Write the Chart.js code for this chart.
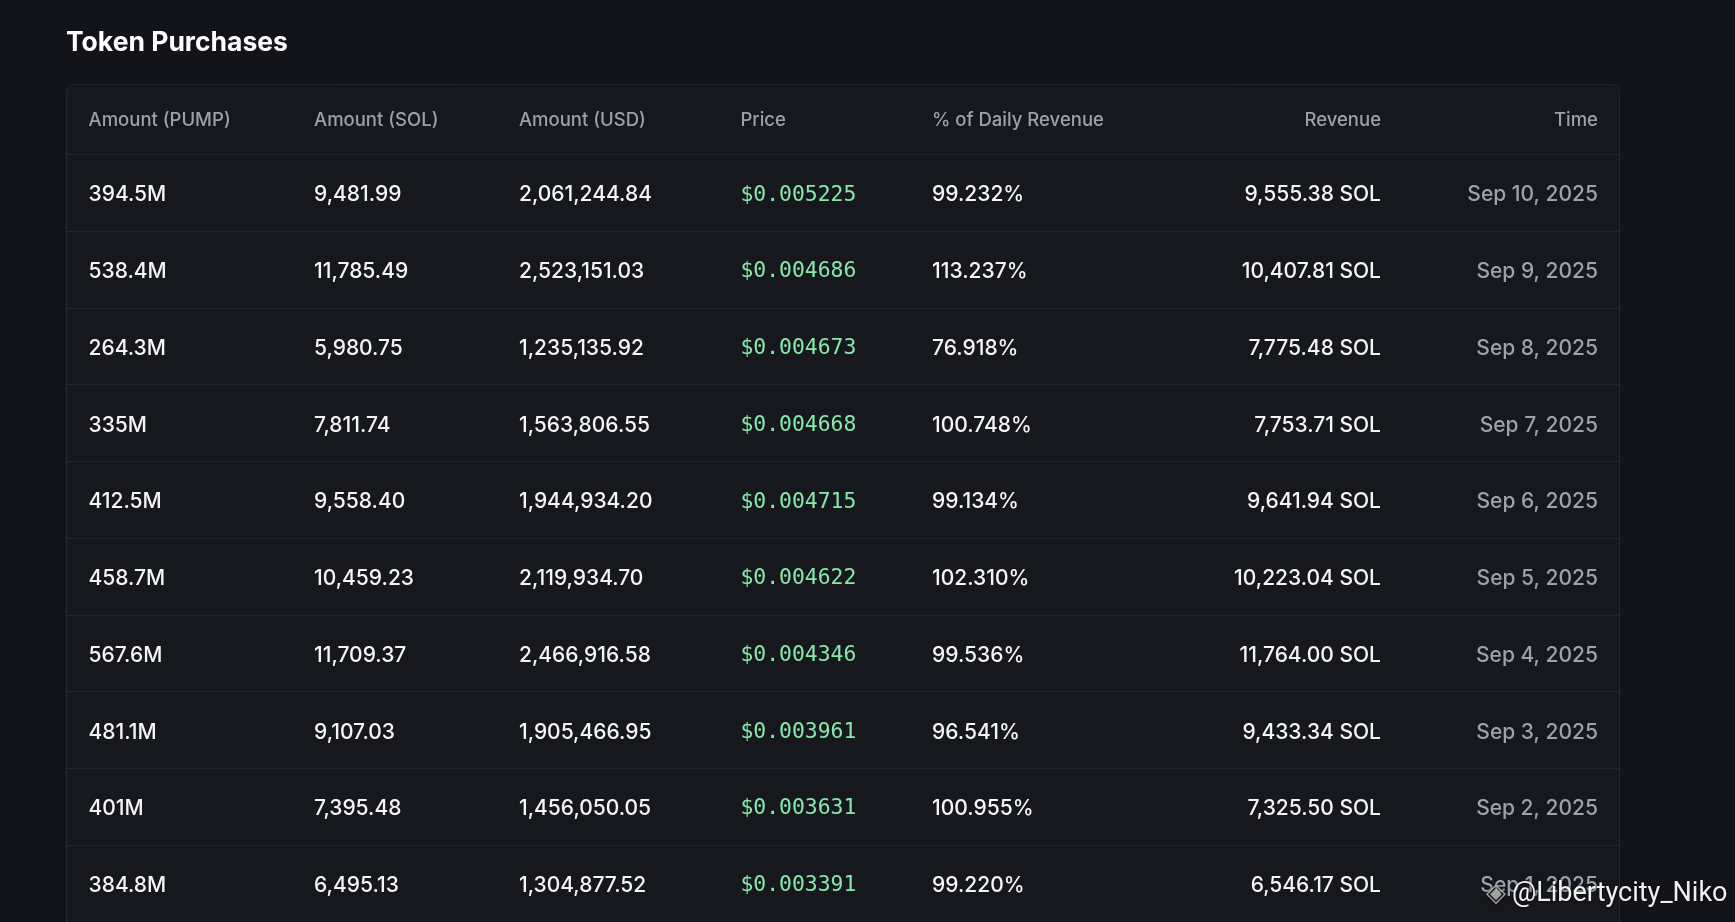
<!DOCTYPE html>
<html>
<head>
<meta charset="utf-8">
<script src="https://cdn.jsdelivr.net/npm/chart.js@4.4.1/dist/chart.umd.min.js"></script>
<style>
  html, body { margin: 0; padding: 0; background: #131419; overflow: hidden; }
  #wrap { position: relative; width: 1735px; height: 922px; }
  #mark {
    position: absolute; left: 1486px; top: 876px;
    font-family: Roboto, sans-serif; font-size: 27px; color: rgba(255,255,255,0.94);
    text-shadow: 0 0 3px rgba(0,0,0,0.8); white-space: nowrap;
  }
  #mark span { color: rgba(200,200,200,0.8); font-size: 26px; margin-right: 6px; }
</style>
</head>
<body>
<div id="wrap">
  <canvas id="table" width="1735" height="922"></canvas>
  <div id="mark"><span>◈</span>@Libertycity_Niko</div>
</div>
<script>
// column headers and per-row values
const headers = ['Amount (PUMP)', 'Amount (SOL)', 'Amount (USD)', 'Price', '% of Daily Revenue', 'Revenue', 'Time'];
const times = ['Sep 10, 2025', 'Sep 9, 2025', 'Sep 8, 2025', 'Sep 7, 2025', 'Sep 6, 2025',
  'Sep 5, 2025', 'Sep 4, 2025', 'Sep 3, 2025', 'Sep 2, 2025', 'Sep 1, 2025'];
const amountPump = [394.5, 538.4, 264.3, 335, 412.5, 458.7, 567.6, 481.1, 401, 384.8]; // millions
const amountSol = [9481.99, 11785.49, 5980.75, 7811.74, 9558.40, 10459.23, 11709.37, 9107.03, 7395.48, 6495.13];
const amountUsd = [2061244.84, 2523151.03, 1235135.92, 1563806.55, 1944934.20, 2119934.70, 2466916.58, 1905466.95, 1456050.05, 1304877.52];
const price = [0.005225, 0.004686, 0.004673, 0.004668, 0.004715, 0.004622, 0.004346, 0.003961, 0.003631, 0.003391];
const pctRevenue = [99.232, 113.237, 76.918, 100.748, 99.134, 102.310, 99.536, 96.541, 100.955, 99.220];
const revenue = [9555.38, 10407.81, 7775.48, 7753.71, 9641.94, 10223.04, 11764.00, 9433.34, 7325.50, 6546.17];

// layout: where each column sits across the card (percent) and how it aligns
const colAnchor = [1.45, 15.96, 29.15, 43.4, 55.73, 84.62, 98.58];
const colAlign = ['left', 'left', 'left', 'left', 'left', 'right', 'right'];

const fmt2 = v => v.toLocaleString('en-US', { minimumFractionDigits: 2, maximumFractionDigits: 2 });

const columns = [
  amountPump.map(v => v + 'M'),
  amountSol.map(fmt2),
  amountUsd.map(fmt2),
  price.map(v => '$' + v.toFixed(6)),
  pctRevenue.map(v => v.toFixed(3) + '%'),
  revenue.map(v => fmt2(v) + ' SOL'),
  times,
];

const bodyFont = '500 21px Inter';
const cellStyle = [
  { font: bodyFont, color: '#f4f5f7' },
  { font: bodyFont, color: '#f4f5f7' },
  { font: bodyFont, color: '#f4f5f7' },
  { font: '400 21.4px "DejaVu Sans Mono"', color: '#86e8aa' },
  { font: bodyFont, color: '#f4f5f7' },
  { font: bodyFont, color: '#f4f5f7' },
  { font: bodyFont, color: '#9ca2ad' },
];

const tablePlugin = {
  id: 'tablePlugin',
  beforeDraw(chart) {
    const { ctx, chartArea } = chart;
    ctx.save();
    ctx.fillStyle = '#131419';
    ctx.fillRect(0, 0, chart.width, chart.height);
    const top = chartArea.top - 71;
    ctx.beginPath();
    ctx.roundRect(chartArea.left + 0.5, top + 0.5, chartArea.right - chartArea.left - 1, chart.height - top + 20, 8);
    ctx.fillStyle = '#17181d';
    ctx.fill();
    ctx.strokeStyle = '#25272d';
    ctx.lineWidth = 1;
    ctx.stroke();
    ctx.restore();
  },
  afterDatasetsDraw(chart) {
    const { ctx, chartArea, scales } = chart;
    ctx.save();
    ctx.textBaseline = 'middle';
    // header row
    ctx.font = '500 18.5px Inter';
    ctx.fillStyle = '#9ba1ab';
    headers.forEach((h, i) => {
      ctx.textAlign = colAlign[i];
      ctx.fillText(h, scales.x.getPixelForValue(colAnchor[i]), chartArea.top - 34);
    });
    // body cells, placed at each dataset's points
    chart.data.datasets.forEach((ds, i) => {
      const meta = chart.getDatasetMeta(i);
      ctx.font = cellStyle[i].font;
      ctx.fillStyle = cellStyle[i].color;
      ctx.textAlign = colAlign[i];
      meta.data.forEach((pt, j) => {
        ctx.fillText(columns[i][j], pt.x, pt.y + 2);
      });
    });
    ctx.restore();
  },
};

new Chart(document.getElementById('table'), {
  type: 'scatter',
  data: {
    datasets: columns.map((col, i) => ({
      label: headers[i],
      data: times.map(t => ({ x: colAnchor[i], y: t })),
      pointRadius: 0,
      pointHoverRadius: 0,
    })),
  },
  options: {
    responsive: false,
    animation: false,
    devicePixelRatio: 1,
    layout: { padding: { left: 66, right: 115, top: 0, bottom: 0 } },
    plugins: {
      legend: { display: false },
      tooltip: { enabled: false },
      title: {
        display: true,
        text: 'Token Purchases',
        align: 'start',
        color: '#ffffff',
        font: { family: 'Inter', size: 26.5, weight: '700' },
        padding: { top: 27, bottom: 96 },
      },
    },
    scales: {
      x: { type: 'linear', min: 0, max: 100, display: false },
      y: {
        type: 'category',
        labels: times,
        offset: true,
        grid: { offset: true, color: '#24262c', drawTicks: false },
        ticks: { display: false },
        border: { display: false },
      },
    },
  },
  plugins: [tablePlugin],
});
</script>
</body>
</html>
